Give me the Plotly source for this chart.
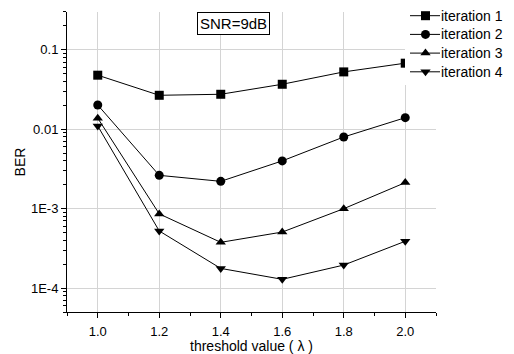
import plotly.graph_objects as go

thresholds = [1.0, 1.2, 1.4, 1.6, 1.8, 2.0]
iter1 = [0.048, 0.0268, 0.0276, 0.0369, 0.0528, 0.068]
iter2 = [0.0202, 0.00263, 0.00221, 0.0040, 0.0080, 0.0140]
iter3 = [0.0138, 0.00086, 0.000377, 0.000508, 0.0010, 0.00213]
iter4 = [0.0110, 0.000524, 0.000177, 0.000129, 0.000195, 0.000389]
series_names = ["iteration 1", "iteration 2", "iteration 3", "iteration 4"]
symbols = ["square", "circle", "triangle-up", "triangle-down"]
y_tickvals = [1e-4, 1e-3, 1e-2, 1e-1]
y_ticktext = ["1E-4", "1E-3", "0.01", "0.1"]
x_tickvals = [1.0, 1.2, 1.4, 1.6, 1.8, 2.0]

W, H = 514, 354
FONT = "Liberation Sans, Arial, sans-serif"

# plot area in pixels
L, R, T, B = 67, 436, 12, 312

fig = go.Figure()
for name, vals, sym in zip(series_names, [iter1, iter2, iter3, iter4], symbols):
    fig.add_trace(go.Scatter(
        x=thresholds, y=vals, name=name, mode="lines+markers",
        line=dict(color="black", width=1),
        marker=dict(symbol=sym, size=9, color="black"),
        showlegend=False, xaxis="x", yaxis="y", cliponaxis=False,
    ))

# hand-drawn legend on an overlay axis measured in pixels
LX0, LX1 = 405, 445
LY0, LY1 = 5, 85
row0, row_gap = 15.7, 18.7
line_x0, line_x1, mark_x = 410, 440, 425.5
annotations = []
for i, (name, sym) in enumerate(zip(series_names, symbols)):
    ry = row0 + i * row_gap
    fig.add_trace(go.Scatter(
        x=[line_x0, mark_x, line_x1], y=[ry, ry, ry], mode="lines",
        line=dict(color="black", width=1), showlegend=False,
        xaxis="x2", yaxis="y2", hoverinfo="skip", cliponaxis=False,
    ))
    fig.add_trace(go.Scatter(
        x=[mark_x], y=[ry], mode="markers",
        marker=dict(symbol=sym, size=9, color="black"), showlegend=False,
        xaxis="x2", yaxis="y2", hoverinfo="skip", cliponaxis=False,
    ))
    annotations.append(dict(
        text=name, xref="paper", yref="paper", x=(line_x1 - 1) / W, y=(H - ry) / H,
        xanchor="left", yanchor="middle", showarrow=False,
        font=dict(family=FONT, size=14, color="black"),
    ))

annotations.append(dict(
    text="SNR=9dB", xref="paper", yref="paper", x=233.5 / W, y=(H - 23) / H,
    xanchor="center", yanchor="middle", showarrow=False,
    bordercolor="black", borderwidth=1, borderpad=2, bgcolor="white",
    font=dict(family=FONT, size=15, color="black"),
))

y_minor = [k * 10.0 ** e for e in range(-5, 0) for k in range(2, 10)]

fig.update_layout(
    width=W, height=H,
    margin=dict(l=0, r=0, t=0, b=0),
    paper_bgcolor="white", plot_bgcolor="white",
    font=dict(family=FONT, size=13, color="black"),
    showlegend=False,
    xaxis=dict(
        domain=[L / W, R / W], anchor="y", automargin=True,
        range=[0.9, 2.1], tickvals=x_tickvals, tickformat=".1f",
        showline=True, linecolor="black", linewidth=1,
        ticks="outside", ticklen=5, tickcolor="black", ticklabelstandoff=2,
        showgrid=True, gridcolor="#d4d4d4", gridwidth=1, zeroline=False,
        minor=dict(tickvals=[0.9, 1.1, 1.3, 1.5, 1.7, 1.9, 2.1], ticks="outside", ticklen=3,
                   tickcolor="black", showgrid=False),
        title=dict(text="threshold value ( λ )", standoff=2, font=dict(family=FONT, size=14)),
    ),
    yaxis=dict(
        domain=[(H - B) / H, (H - T) / H], anchor="x", automargin=True,
        type="log", range=[-4.301, -0.523],
        tickvals=y_tickvals, ticktext=y_ticktext,
        showline=True, linecolor="black", linewidth=1,
        ticks="outside", ticklen=5, tickcolor="black",
        showgrid=True, gridcolor="#d4d4d4", gridwidth=1, zeroline=False,
        minor=dict(tickvals=y_minor, ticks="outside", ticklen=3, tickcolor="black", showgrid=False),
        title=dict(text="BER", standoff=2, font=dict(family=FONT, size=14)),
    ),
    xaxis2=dict(domain=[LX0 / W, LX1 / W], range=[LX0, LX1], anchor="y2",
                visible=False, fixedrange=True),
    yaxis2=dict(domain=[(H - LY1) / H, (H - LY0) / H], range=[LY1, LY0], anchor="x2",
                visible=False, fixedrange=True),
    annotations=annotations,
)

fig.write_html("out.html")
